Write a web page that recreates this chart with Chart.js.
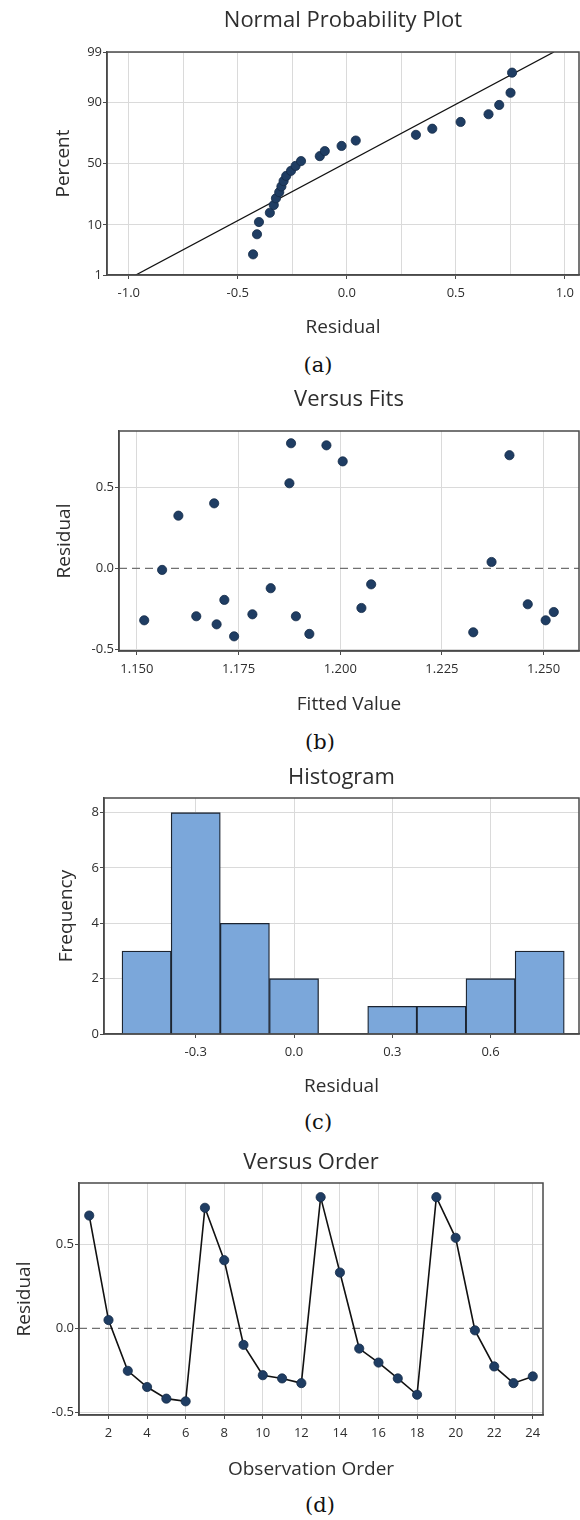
<!DOCTYPE html>
<html>
<head>
<meta charset="utf-8">
<title>Residual Plots</title>
<script src="https://cdn.jsdelivr.net/npm/chart.js@4.4.1/dist/chart.umd.min.js"></script>
<style>
  html, body { margin: 0; padding: 0; background: #fff; }
  #page { position: relative; width: 580px; height: 1520px; overflow: hidden; }
  #page canvas { position: absolute; left: 0; }
  .cap {
    position: absolute; width: 80px; margin-left: -40px; text-align: center;
    font-family: 'DejaVu Serif', 'Liberation Serif', serif; font-size: 21px; line-height: 24px; color: #111;
  }
</style>
</head>
<body>
<div id="page">
  <canvas id="chartProb"></canvas>
  <div class="cap" style="left:318px; top:353px">(a)</div>
  <canvas id="chartFits"></canvas>
  <div class="cap" style="left:320px; top:730px">(b)</div>
  <canvas id="chartHist"></canvas>
  <div class="cap" style="left:318px; top:1110px">(c)</div>
  <canvas id="chartOrder"></canvas>
  <div class="cap" style="left:320px; top:1493px">(d)</div>
</div>
<script>
// ---------------- data ----------------

// (a) normal probability plot
const probResidual = [-0.430, -0.412, -0.403, -0.353, -0.335, -0.325, -0.310, -0.300, -0.290, -0.278,
                      -0.256, -0.235, -0.210, -0.124, -0.101, -0.024, 0.041, 0.317, 0.392, 0.522,
                      0.650, 0.699, 0.751, 0.758];
const probPercent = [2.9, 7.0, 11.1, 15.2, 19.3, 23.4, 27.5, 31.6, 35.7, 39.8,
                     43.9, 48.0, 52.0, 56.1, 60.2, 64.3, 68.4, 72.5, 76.6, 80.7,
                     84.8, 88.9, 93.0, 97.1];
const probFitX = [-0.968, 0.950];
const probFitY = [1, 99];
const probTicksY = [1, 10, 50, 90, 99];
const probGridX = [-1.0, -0.75, -0.5, -0.25, 0.0, 0.25, 0.5, 0.75, 1.0];
const probLabelX = [-1.0, -0.5, 0.0, 0.5, 1.0];

// (b) versus fits
const fitValue = [1.1518, 1.1562, 1.1602, 1.1646, 1.1690, 1.1696, 1.1715, 1.1739, 1.1784, 1.1829,
                  1.1875, 1.1879, 1.1891, 1.1924, 1.1966, 1.2006, 1.2052, 1.2076, 1.2327, 1.2372,
                  1.2416, 1.2461, 1.2505, 1.2525];
const fitResidual = [-0.321, -0.010, 0.325, -0.296, 0.401, -0.346, -0.195, -0.420, -0.284, -0.123,
                     0.525, 0.772, -0.296, -0.405, 0.759, 0.660, -0.245, -0.099, -0.395, 0.039,
                     0.698, -0.222, -0.321, -0.270];
const fitTicksX = [1.150, 1.175, 1.200, 1.225, 1.250];
const residTicks = [-0.5, 0.0, 0.5];

// (c) histogram
const binCenter = [-0.45, -0.30, -0.15, 0.00, 0.15, 0.30, 0.45, 0.60, 0.75];
const binCount = [3, 8, 4, 2, 0, 1, 1, 2, 3];
const histTicksX = [-0.3, 0.0, 0.3, 0.6];
const histTicksY = [0, 2, 4, 6, 8];

// (d) versus order
const obsOrder = [1, 2, 3, 4, 5, 6, 7, 8, 9, 10, 11, 12, 13, 14, 15, 16, 17, 18, 19, 20, 21, 22, 23, 24];
const obsResidual = [0.669, 0.049, -0.252, -0.348, -0.417, -0.433, 0.715, 0.404, -0.098, -0.278,
                     -0.297, -0.325, 0.778, 0.331, -0.120, -0.203, -0.297, -0.394, 0.778, 0.537,
                     -0.012, -0.226, -0.325, -0.285];
const orderTicksX = [2, 4, 6, 8, 10, 12, 14, 16, 18, 20, 22, 24];

// ---------------- style ----------------
const FONT = "'Open Sans', 'DejaVu Sans', sans-serif";
const INK = '#2e2e2e';
const GRID = '#dadada';
const FRAME = '#4a4a4a';
const DOT = '#1f3d63';
const DOT_EDGE = '#142b48';
const BAR = '#7ba7da';
const CANVAS_W = 600;

// page geometry of each panel (pixels)
const geoProb  = { title: 'Normal Probability Plot', titleY: 21,   plotTop: 52,   plotBottom: 275,  plotLeft: 107, plotRight: 579, yTitleX: 64, xTitleY: 328 };
const geoFits  = { title: 'Versus Fits',             titleY: 400,  plotTop: 431,  plotBottom: 651,  plotLeft: 119, plotRight: 579, yTitleX: 65, xTitleY: 705 };
const geoHist  = { title: 'Histogram',               titleY: 778,  plotTop: 798,  plotBottom: 1034, plotLeft: 104, plotRight: 579, yTitleX: 67, xTitleY: 1087 };
const geoOrder = { title: 'Versus Order',            titleY: 1163, plotTop: 1183, plotBottom: 1415, plotLeft: 79,  plotRight: 543, yTitleX: 25, xTitleY: 1470 };

// ---------------- probability (normal quantile) scale ----------------
function probit(p) {
  const a = [-3.969683028665376e+01, 2.209460984245205e+02, -2.759285104469687e+02, 1.383577518672690e+02, -3.066479806614716e+01, 2.506628277459239e+00];
  const b = [-5.447609879822406e+01, 1.615858368580409e+02, -1.556989798598866e+02, 6.680131188771724e+01, -1.328068155288572e+01];
  const c = [-7.784894002430293e-03, -3.223964580411365e-01, -2.400758277161838e+00, -2.549732539343734e+00, 4.374664141464968e+00, 2.938163982698783e+00];
  const d = [7.784695709041462e-03, 3.224671290700398e-01, 2.445134137142996e+00, 3.754408661907416e+00];
  const plow = 0.02425;
  let q, r;
  if (p < plow) {
    q = Math.sqrt(-2 * Math.log(p));
    return (((((c[0]*q + c[1])*q + c[2])*q + c[3])*q + c[4])*q + c[5]) / ((((d[0]*q + d[1])*q + d[2])*q + d[3])*q + 1);
  }
  if (p > 1 - plow) {
    q = Math.sqrt(-2 * Math.log(1 - p));
    return -(((((c[0]*q + c[1])*q + c[2])*q + c[3])*q + c[4])*q + c[5]) / ((((d[0]*q + d[1])*q + d[2])*q + d[3])*q + 1);
  }
  q = p - 0.5; r = q * q;
  return (((((a[0]*r + a[1])*r + a[2])*r + a[3])*r + a[4])*r + a[5])*q / (((((b[0]*r + b[1])*r + b[2])*r + b[3])*r + b[4])*r + 1);
}
function normCdf(z) {
  const s = Math.sign(z), x = Math.abs(z) / Math.SQRT2;
  const t = 1 / (1 + 0.3275911 * x);
  const y = 1 - (((((1.061405429*t - 1.453152027)*t) + 1.421413741)*t - 0.284496736)*t + 0.254829592)*t*Math.exp(-x*x);
  return 0.5 * (1 + s * y);
}

const LinearScale = Chart.LinearScale || Chart.registry.getScale('linear');
class ProbabilityScale extends LinearScale {
  buildTicks() {
    this.start = this.min; this.end = this.max;
    return [];
  }
  getPixelForValue(value) {
    if (value === null || isNaN(value)) return NaN;
    const lo = probit(this.min / 100), hi = probit(this.max / 100);
    return this.getPixelForDecimal((probit(value / 100) - lo) / (hi - lo));
  }
  getValueForPixel(pixel) {
    const lo = probit(this.min / 100), hi = probit(this.max / 100);
    return 100 * normCdf(lo + this.getDecimalForPixel(pixel) * (hi - lo));
  }
}
ProbabilityScale.id = 'probability';
ProbabilityScale.defaults = {};
Chart.register(ProbabilityScale);

// plot frame on all four sides
const framePlugin = {
  id: 'frame',
  afterDatasetsDraw(chart) {
    const a = chart.chartArea, ctx = chart.ctx;
    ctx.save();
    ctx.strokeStyle = FRAME;
    ctx.lineWidth = 1.5;
    ctx.strokeRect(a.left, a.top, a.right - a.left, a.bottom - a.top);
    ctx.restore();
  }
};

// ---------------- helpers ----------------
const hideZero = ctx => (ctx.tick && ctx.tick.value === 0 ? 'rgba(0,0,0,0)' : GRID);

function xAxis(geo, o) {
  return {
    type: 'linear', position: 'bottom', min: o.min, max: o.max, bounds: 'data', offset: false,
    afterFit: s => { s.height = geo.xTitleY + 20 - geo.plotBottom; },
    afterBuildTicks: s => { s.ticks = o.ticks.map(v => ({ value: v })); },
    ticks: { autoSkip: false, maxRotation: 0, padding: 6, color: INK, font: { family: FONT, size: 13 }, callback: o.label },
    grid: {
      offset: false, color: o.gridColor || GRID, lineWidth: 1, drawTicks: true, tickLength: 4, tickWidth: 1,
      tickColor: ctx => (ctx.tick && ctx.tick.label === '' ? 'rgba(0,0,0,0)' : FRAME)
    },
    border: { display: true, color: FRAME, width: 1.5 },
    title: { display: true, text: o.title, color: INK, font: { family: FONT, size: 19 }, padding: { top: 0, bottom: 20 - 11.4 } }
  };
}

function yAxis(geo, o) {
  return {
    type: o.type || 'linear', position: 'left', min: o.min, max: o.max, bounds: 'data',
    afterFit: s => { s.width = geo.plotLeft; },
    afterBuildTicks: s => { s.ticks = o.ticks.map(v => ({ value: v })); },
    ticks: { autoSkip: false, padding: 1, color: INK, font: { family: FONT, size: 13 }, callback: o.label },
    grid: { color: o.gridColor || GRID, lineWidth: 1, drawTicks: true, tickLength: 4, tickWidth: 1, tickColor: FRAME },
    border: { display: true, color: FRAME, width: 1.5 },
    title: { display: true, text: o.title, color: INK, font: { family: FONT, size: 19 }, padding: { top: geo.yTitleX - 11.4, bottom: 0 } }
  };
}

function makeChart(id, geo, type, datasets, xOpts, yOpts) {
  const canvas = document.getElementById(id);
  const top = geo.titleY - 21;
  canvas.width = CANVAS_W;
  canvas.height = geo.xTitleY + 20 - top;
  canvas.style.top = top + 'px';
  return new Chart(canvas, {
    type: type,
    data: { datasets: datasets },
    options: {
      responsive: false, animation: false, devicePixelRatio: 1, events: [],
      layout: { autoPadding: false, padding: { left: 0, top: 0, bottom: 0, right: CANVAS_W - geo.plotRight } },
      plugins: {
        legend: { display: false },
        tooltip: { enabled: false },
        title: {
          display: true, text: geo.title, fullSize: false, color: INK,
          font: { family: FONT, size: 22, weight: 'normal' },
          padding: { top: 21 - 13.2, bottom: geo.plotTop - geo.titleY - 13.2 }
        }
      },
      scales: { x: xAxis(geo, xOpts), y: yAxis(geo, yOpts) }
    },
    plugins: [framePlugin]
  });
}

const dots = {
  showLine: false, pointRadius: 4.6, pointBackgroundColor: DOT, pointBorderColor: DOT_EDGE, pointBorderWidth: 0.8
};
const fmt1 = v => v.toFixed(1);

// ---------------- (a) normal probability plot ----------------
const probXRange = [-1.1, 1.065];
makeChart('chartProb', geoProb, 'scatter', [
  Object.assign({ data: probResidual.map((r, i) => ({ x: r, y: probPercent[i] })) }, dots),
  {
    data: probFitX.map((x, i) => ({ x: x, y: probFitY[i] })),
    showLine: true, borderColor: '#111', borderWidth: 1.3, pointRadius: 0
  }
], {
  min: probXRange[0], max: probXRange[1], ticks: probGridX, title: 'Residual',
  label: v => (probLabelX.includes(v) ? v.toFixed(1) : '')
}, {
  type: 'probability', min: 1, max: 99, ticks: probTicksY, title: 'Percent',
  label: v => String(v)
});

// ---------------- (b) versus fits ----------------
const fitXRange = [1.1456, 1.2587];
makeChart('chartFits', geoFits, 'scatter', [
  Object.assign({ data: fitValue.map((f, i) => ({ x: f, y: fitResidual[i] })) }, dots),
  {
    data: fitXRange.map(x => ({ x: x, y: 0 })),
    showLine: true, borderColor: '#707070', borderWidth: 1.3, borderDash: [8, 5], pointRadius: 0
  }
], {
  min: fitXRange[0], max: fitXRange[1], ticks: fitTicksX, title: 'Fitted Value',
  label: v => v.toFixed(3)
}, {
  min: -0.5105, max: 0.8475, ticks: residTicks, title: 'Residual', label: fmt1, gridColor: hideZero
});

// ---------------- (c) histogram ----------------
makeChart('chartHist', geoHist, 'bar', [
  {
    data: binCenter.map((c, i) => ({ x: c, y: binCount[i] })),
    backgroundColor: BAR, borderColor: '#1c2430', borderWidth: 1.3,
    barPercentage: 1, categoryPercentage: 1
  }
], {
  min: -0.58, max: 0.87, ticks: histTicksX, title: 'Residual', label: fmt1
}, {
  min: 0, max: 8.53, ticks: histTicksY, title: 'Frequency', label: v => String(v)
});

// ---------------- (d) versus order ----------------
const orderXRange = [0.47, 24.53];
makeChart('chartOrder', geoOrder, 'scatter', [
  Object.assign({ data: obsOrder.map((n, i) => ({ x: n, y: obsResidual[i] })) }, dots,
    { showLine: true, borderColor: '#111', borderWidth: 1.6 }),
  {
    data: orderXRange.map(x => ({ x: x, y: 0 })),
    showLine: true, borderColor: '#707070', borderWidth: 1.3, borderDash: [8, 5], pointRadius: 0
  }
], {
  min: orderXRange[0], max: orderXRange[1], ticks: orderTicksX, title: 'Observation Order',
  label: v => String(v)
}, {
  min: -0.514, max: 0.862, ticks: residTicks, title: 'Residual', label: fmt1, gridColor: hideZero
});
</script>
</body>
</html>
